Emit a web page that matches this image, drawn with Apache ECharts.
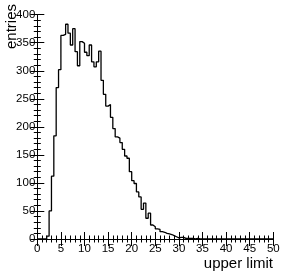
<!DOCTYPE html>
<html><head><meta charset="utf-8">
<script src="https://cdn.jsdelivr.net/npm/echarts@6/dist/echarts.min.js"></script>
<style>html,body{margin:0;padding:0;background:#fff}#c{width:287px;height:275px}</style>
</head><body><div id="c"></div>
<script>
// histogram: 100 bins of width 0.5 from 0 to 50
const binWidth = 0.5;
const xMin = 0, xMax = 50;
const counts = [
  0,0,0,0, 5,50,112,184,270,302,            // 0.0 - 4.5
  363,365,383,367,346,375,334,309,352,349,  // 5.0 - 9.5
  333,327,346,316,307,316,335,283,258,237,  // 10.0 - 14.5
  240,217,197,182,180,172,160,148,144,120,  // 15.0 - 19.5
  104,99,84,75,53,64,37,46,25,22,           // 20.0 - 24.5
  18,17,13,12,10,9,8,6,4,2,                 // 25.0 - 29.5
  3,3,1,1,1,1,0,1,0,0,                      // 30.0 - 34.5
  0,0,0,0,0,0,0,0,0,0,
  0,0,0,0,0,0,0,0,0,0,
  0,0,0,0,0,0,0,0,0,0
];
const xTicks = [0,5,10,15,20,25,30,35,40,45,50];
const yTicks = [0,50,100,150,200,250,300,350,400];
const xTitle = 'upper limit';
const yTitle = 'entries';

const pts = counts.map((v,i)=>[xMin + i*binWidth, v]);
pts.push([xMin + counts.length*binWidth, counts[counts.length-1]]);

const font = 'Liberation Sans, Arial, Helvetica, sans-serif';
function axisCommon(){ return {
  axisLine:{show:true,lineStyle:{color:'#000',width:1}},
  splitLine:{show:false},
  axisTick:{show:true,inside:true,length:7,lineStyle:{color:'#000',width:1}},
  minorTick:{show:true,splitNumber:5,length:3.5,lineStyle:{color:'#000',width:1}},
};}
const chart = echarts.init(document.getElementById('c'),null,{renderer:'canvas'});
chart.setOption({
  animation:false,
  grid:{left:37.3,right:13.7,top:14.7,bottom:36,containLabel:false,outerBoundsMode:'none'},
  xAxis:[
    Object.assign({type:'value',position:'bottom',min:xMin,max:xMax,interval:5,
      axisLabel:{show:true,inside:false,color:'#000',fontSize:11.5,fontFamily:font,margin:4,
        formatter:v=>xTicks.includes(v)?String(v):''}},axisCommon()),
    Object.assign({type:'value',position:'top',min:xMin,max:xMax,interval:5,
      axisLabel:{show:false}},axisCommon())
  ],
  yAxis:[
    Object.assign({type:'value',position:'left',min:0,max:400,interval:50,
      axisLabel:{show:true,inside:false,color:'#000',fontSize:11.5,fontFamily:font,margin:2,
        formatter:v=>yTicks.includes(v)?String(v):''}},axisCommon()),
    Object.assign({type:'value',position:'right',min:0,max:400,interval:50,
      axisLabel:{show:false}},axisCommon())
  ],
  series:[{
    type:'line',step:'end',data:pts,symbol:'none',
    lineStyle:{color:'#000',width:1.3},
    xAxisIndex:0,yAxisIndex:0,silent:true
  }],
  graphic:[
    {type:'text',x:273,y:256,style:{text:xTitle,font:'15px '+font,fill:'#000',align:'right',verticalAlign:'top'}},
    {type:'text',x:4,y:4,rotation:Math.PI/2,
      style:{text:yTitle,font:'15px '+font,fill:'#000',align:'right',verticalAlign:'top'}}
  ]
});
</script></body></html>
